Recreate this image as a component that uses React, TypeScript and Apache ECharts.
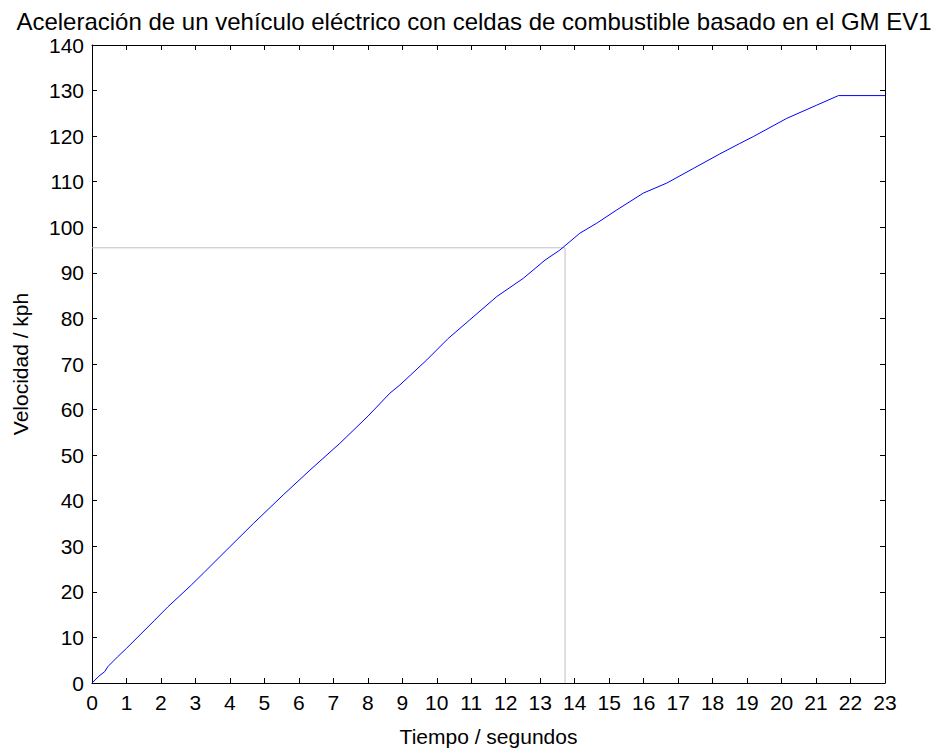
import React, { useEffect, useRef } from "react";
import * as echarts from "echarts";

const titleText = "Aceleración de un vehículo eléctrico con celdas de combustible basado en el GM EV1";
const xName = "Tiempo / segundos";
const yName = "Velocidad / kph";

const timeSec = [0, 0.2, 0.37, 0.46, 0.75, 1.0, 1.82, 2.2, 2.88, 3.27, 4.0, 4.68, 5.55, 6.32, 7.19, 8.01, 8.64, 8.93, 9.71, 10.33, 10.96, 11.74, 12.51, 13.14, 13.57, 14.15, 14.64, 15.22, 15.99, 16.67, 17.44, 18.21, 18.79, 19.18, 20.15, 21.02, 21.65, 23];
const speedKph = [0, 1.5, 2.5, 3.6, 5.8, 7.6, 13.8, 16.7, 21.5, 24.4, 29.9, 35.0, 41.3, 46.7, 52.6, 58.6, 63.6, 65.4, 70.9, 75.6, 79.7, 84.8, 88.8, 92.8, 95.0, 98.7, 100.9, 103.8, 107.5, 109.7, 112.9, 116.1, 118.4, 119.9, 123.9, 126.8, 128.9, 128.9];

const refX = [0, 13.72, 13.72];
const refY = [95.5, 95.5, 0];

const FONT = "Liberation Sans, Arial, sans-serif";

export default function App() {
  const ref = useRef<HTMLDivElement>(null);
  useEffect(() => {
    if (!ref.current) return;
    const chart = echarts.init(ref.current, null, { renderer: "svg" });
    const axisCommon = {
      type: "value" as const,
      axisLine: { show: true, onZero: false, lineStyle: { color: "#000", width: 1 } },
      axisTick: { show: true, inside: true, length: 5, lineStyle: { color: "#000" } },
      splitLine: { show: false },
    };
    chart.setOption({
      animation: false,
      backgroundColor: "#fff",
      textStyle: { fontFamily: FONT },
      title: {
        text: titleText,
        left: "center",
        top: 4,
        textStyle: { fontFamily: FONT, fontSize: 24, fontWeight: "normal", color: "#000" },
      },
      grid: { left: 92, right: 63, top: 45, bottom: 70, show: false },
      xAxis: [
        {
          ...axisCommon,
          position: "bottom",
          min: 0,
          max: 23,
          interval: 1,
          name: xName,
          nameLocation: "middle",
          nameGap: 43,
          nameTextStyle: { fontFamily: FONT, fontSize: 21, color: "#000" },
          axisLabel: { color: "#000", fontFamily: FONT, fontSize: 21, margin: 9 },
        },
        {
          ...axisCommon,
          position: "top",
          min: 0,
          max: 23,
          interval: 1,
          axisLabel: { show: false },
        },
      ],
      yAxis: [
        {
          ...axisCommon,
          position: "left",
          min: 0,
          max: 140,
          interval: 10,
          name: yName,
          nameLocation: "middle",
          nameGap: 61,
          nameTextStyle: { fontFamily: FONT, fontSize: 21, color: "#000" },
          axisLabel: { color: "#000", fontFamily: FONT, fontSize: 21, margin: 8 },
        },
        {
          ...axisCommon,
          position: "right",
          min: 0,
          max: 140,
          interval: 10,
          axisLabel: { show: false },
        },
      ],
      series: [
        {
          type: "line",
          data: refX.map((x, i) => [x, refY[i]]),
          showSymbol: false,
          lineStyle: { color: "#c0c0c0", width: 1 },
          silent: true,
        },
        {
          type: "line",
          data: timeSec.map((t, i) => [t, speedKph[i]]),
          showSymbol: false,
          lineStyle: { color: "#0000ff", width: 1 },
          silent: true,
        },
      ],
    });
    return () => chart.dispose();
  }, []);
  return <div ref={ref} style={{ position: "fixed", left: 0, top: 0, width: 948, height: 753 }} />;
}
